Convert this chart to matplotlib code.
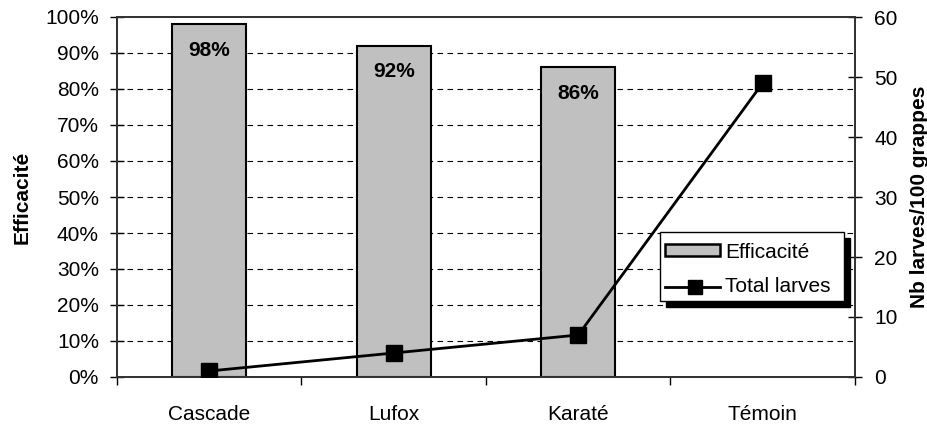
import numpy as np
import matplotlib.pyplot as plt
from matplotlib.patches import Rectangle
from matplotlib.lines import Line2D

plt.rcParams['font.family'] = ['Liberation Sans', 'DejaVu Sans']

categories = ["Cascade", "Lufox", "Karaté", "Témoin"]
efficacite = [0.98, 0.92, 0.86]
larves = [1, 4, 7, 49]

FS = 15

fig = plt.figure(figsize=(9.28, 4.24), dpi=100)
ax = fig.add_axes([117 / 928, 1 - 377 / 424, (855 - 117) / 928, 360 / 424])
ax2 = ax.twinx()

x = np.arange(len(categories))
ax.bar(x[:len(efficacite)], efficacite, width=0.4, color='#c0c0c0',
       edgecolor='black', linewidth=1.5, zorder=2)
for xi, v in zip(x, efficacite):
    ax.text(xi, v - 0.072, f"{v * 100:.0f}%", ha='center', va='center',
            fontsize=FS, fontweight='bold', zorder=3)

ax.set_xlim(-0.5, len(categories) - 0.5)
ax.set_ylim(0, 1)
ax.set_yticks(np.arange(0, 1.01, 0.1))
ax.set_yticklabels([f"{v}%" for v in range(0, 101, 10)])
for g in np.arange(0.1, 0.95, 0.1):
    ax.axhline(g, color='black', linestyle=(0, (5, 4)), linewidth=0.8, zorder=1)

ax.set_xticks(x)
ax.set_xticklabels(categories)
ax.set_xticks(np.arange(-0.5, len(categories), 1), minor=True)
ax.tick_params(axis='x', which='major', length=0, pad=20, labelsize=FS)
ax.tick_params(axis='x', which='minor', length=6, direction='out', width=1)
ax.tick_params(axis='y', direction='inout', length=10, labelsize=FS, width=1,
               pad=8)
ax.set_ylabel("Efficacité", fontsize=FS, fontweight='bold', labelpad=10)

ax2.plot(x, larves, color='black', linewidth=2, marker='s', markersize=11,
         zorder=4)
ax2.set_ylim(0, 60)
ax2.set_yticks(range(0, 61, 10))
ax2.tick_params(axis='y', direction='inout', length=10, labelsize=FS, width=1,
                pad=9)
ax2.set_ylabel("Nb larves/100 grappes", fontsize=FS, fontweight='bold',
               labelpad=9)

for a in (ax, ax2):
    for s in a.spines.values():
        s.set_linewidth(1.3)
        s.set_color('#333333')

ax2.set_zorder(ax.get_zorder() + 1)
ax2.patch.set_visible(False)

# legend with shadow
lx0, ly0, lw, lh = 660 / 928, 1 - 301 / 424, 184 / 928, 69 / 424
fig.patches.append(Rectangle((lx0 + 6 / 928, ly0 - 6 / 424), lw, lh,
                             transform=fig.transFigure, facecolor='black',
                             edgecolor='black', zorder=10))
fig.patches.append(Rectangle((lx0, ly0), lw, lh, transform=fig.transFigure,
                             facecolor='white', edgecolor='black',
                             linewidth=1, zorder=11))
fig.patches.append(Rectangle((665 / 928, 1 - 256 / 424), 55 / 928, 12 / 424,
                             transform=fig.transFigure, facecolor='#c0c0c0',
                             edgecolor='black', linewidth=1.8, zorder=12))
fig.lines.append(Line2D([665 / 928, 695 / 928, 720 / 928], [1 - 287 / 424] * 3,
                        transform=fig.transFigure, color='black',
                        linewidth=2, marker='s', markersize=10,
                        markevery=[1], zorder=12))
fig.text(725 / 928, 1 - 252 / 424, "Efficacité", fontsize=FS, va='center',
         zorder=13)
fig.text(725 / 928, 1 - 287 / 424, "Total larves", fontsize=FS, va='center',
         zorder=13)

fig.savefig("out.png", dpi=100)
